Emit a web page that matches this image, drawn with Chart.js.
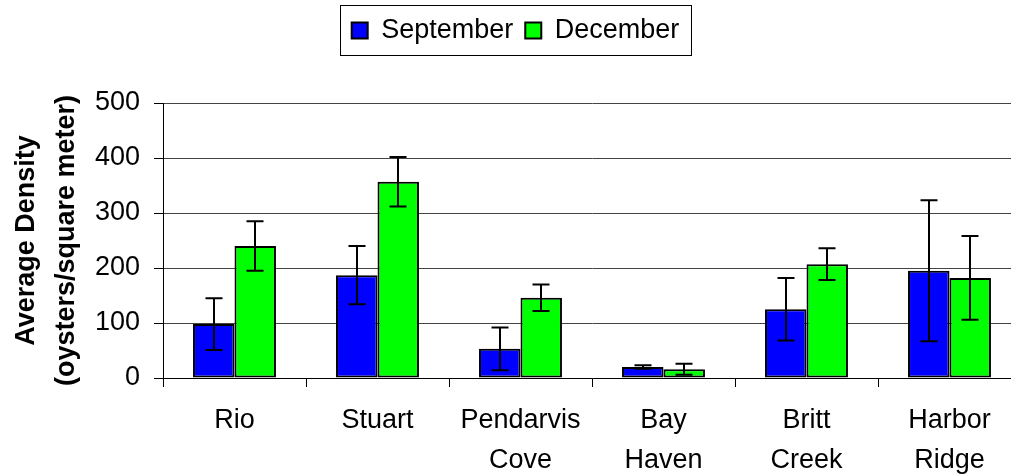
<!DOCTYPE html>
<html>
<head>
<meta charset="utf-8">
<script src="https://cdn.jsdelivr.net/npm/chart.js@4.4.0/dist/chart.umd.min.js"></script>
<style>
  html, body { margin: 0; padding: 0; background: #fff; overflow: hidden; }
  #wrap { width: 1021px; height: 474px; }
</style>
</head>
<body>
<div id="wrap"><canvas id="barChart" width="1021" height="474"></canvas></div>
<script>
// sites along the x axis
var sites = [["Rio"], ["Stuart"], ["Pendarvis", "Cove"], ["Bay", "Haven"], ["Britt", "Creek"], ["Harbor", "Ridge"]]

// average density (oysters / m2) and error bar size
var septemberVals = [98, 187, 53, 20, 125, 195]
var septemberErr = [47, 53, 39, 3, 57, 128]
var decemberVals = [240, 357, 146, 16, 207, 182]
var decemberErr = [45, 45, 24, 10, 29, 76]

var yTicks = [0, 100, 200, 300, 400, 500]

Chart.defaults.font.family = "'Liberation Sans', Arial, sans-serif"
Chart.defaults.color = '#000'

// push the plot area down below the legend
var legendMargin = {
    id: 'legendMargin',
    beforeInit: function(chart){
        var fit = chart.legend.fit
        chart.legend.fit = function(){
            fit.bind(chart.legend)()
            this.height += 49
        }
    }
}

// box around the legend
var legendBorder = {
    id: 'legendBorder',
    afterDraw: function(chart){
        var lg = chart.legend
        if (!lg || !lg.legendHitBoxes.length) return
        var boxes = lg.legendHitBoxes
        var first = boxes[0]
        var last = boxes[boxes.length - 1]
        var ctx = chart.ctx
        ctx.save()
        ctx.strokeStyle = '#000'
        ctx.lineWidth = 1
        ctx.strokeRect(Math.round(first.left - 12) + 0.5, Math.round(lg.top) + 0.5,
            Math.round(last.left + last.width - first.left + 23), 50)
        ctx.restore()
    }
}

// error bars, drawn with the value scale
var errorBars = {
    id: 'errorBars',
    afterDatasetsDraw: function(chart){
        var ctx = chart.ctx
        var yScale = chart.scales.y
        var errs = [septemberErr, decemberErr]
        ctx.save()
        ctx.strokeStyle = '#000'
        ctx.lineWidth = 2
        chart.data.datasets.forEach(function(ds, di){
            var meta = chart.getDatasetMeta(di)
            meta.data.forEach(function(bar, i){
                var v = ds.data[i]
                var e = errs[di][i]
                var top = yScale.getPixelForValue(v + e)
                var bot = yScale.getPixelForValue(v - e)
                var x = Math.round(bar.x)
                ctx.beginPath()
                ctx.moveTo(x, top)
                ctx.lineTo(x, bot)
                ctx.moveTo(x - 8.5, top)
                ctx.lineTo(x + 8.5, top)
                ctx.moveTo(x - 8.5, bot)
                ctx.lineTo(x + 8.5, bot)
                ctx.stroke()
            })
        })
        ctx.restore()
    }
}

var ctx = document.getElementById("barChart").getContext('2d')
var barChart = new Chart(ctx, {
    type: 'bar',
    data: {
        labels: sites,
        datasets: [
            {
                label: "September",
                data: septemberVals,
                backgroundColor: '#0000ff',
                borderColor: '#000',
                borderWidth: 2,
                borderSkipped: false,
                categoryPercentage: 0.58,
                barPercentage: 1.0
            },
            {
                label: "December",
                data: decemberVals,
                backgroundColor: '#00ff00',
                borderColor: '#000',
                borderWidth: 2,
                borderSkipped: false,
                categoryPercentage: 0.58,
                barPercentage: 1.0
            }
        ]
    },
    options: {
        responsive: false,
        animation: false,
        layout: { padding: { left: 10, right: 0, top: 5, bottom: 0 } },
        plugins: {
            legend: {
                position: 'top',
                labels: {
                    boxWidth: 16,
                    boxHeight: 16,
                    padding: 12,
                    font: { size: 27 },
                    color: '#000'
                }
            },
            tooltip: { enabled: false }
        },
        scales: {
            x: {
                grid: {
                    offset: true,
                    drawOnChartArea: false,
                    tickLength: 9,
                    tickColor: '#000',
                    tickWidth: 1
                },
                border: { color: '#000', width: 1 },
                ticks: {
                    font: { size: 27, lineHeight: 1.48 },
                    padding: 14,
                    maxRotation: 0,
                    autoSkip: false
                },
                afterFit: function(scale){ scale.height = 96 }
            },
            y: {
                min: 0,
                max: 500,
                afterBuildTicks: function(scale){
                    scale.ticks = yTicks.map(function(v){ return { value: v } })
                },
                grid: {
                    color: '#444',
                    lineWidth: 1,
                    tickLength: 9,
                    tickColor: '#000'
                },
                border: { color: '#000', width: 1 },
                ticks: {
                    font: { size: 27 },
                    padding: 14
                },
                title: {
                    display: true,
                    text: ['Average Density', '(oysters/square meter)'],
                    font: { size: 27, weight: 'bold', lineHeight: 1.48 },
                    padding: { top: -3, bottom: 0 }
                },
                afterFit: function(scale){ scale.width = 153 }
            }
        }
    },
    plugins: [legendMargin, legendBorder, errorBars]
})
</script>
</body>
</html>
